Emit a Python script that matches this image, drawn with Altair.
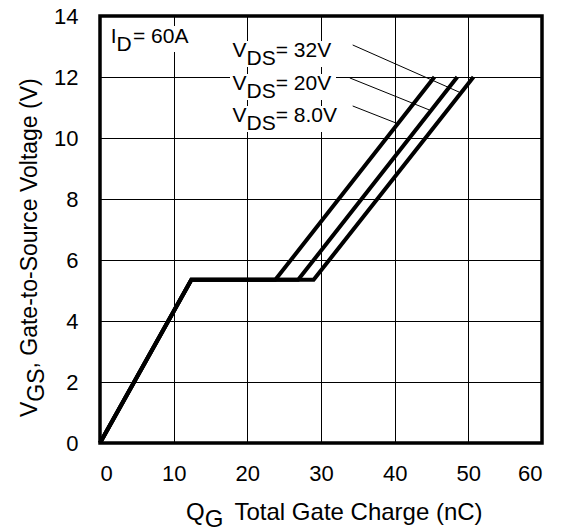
import altair as alt
import pandas as pd

# ---- data ----
qg_8v = [0, 12.4, 23.8, 45.4]
vgs_8v = [0, 5.35, 5.35, 12.0]
qg_20v = [0, 12.4, 26.9, 48.5]
vgs_20v = [0, 5.35, 5.35, 12.0]
qg_32v = [0, 12.4, 29.0, 50.7]
vgs_32v = [0, 5.35, 5.35, 12.0]
x_ticks = [0, 10, 20, 30, 40, 50, 60]
y_ticks = [0, 2, 4, 6, 8, 10, 12, 14]

rows = []
for name, xs, ys in [("8V", qg_8v, vgs_8v), ("20V", qg_20v, vgs_20v), ("32V", qg_32v, vgs_32v)]:
    for i, (xv, yv) in enumerate(zip(xs, ys)):
        rows.append({"series": name, "order": i, "qg": xv, "vgs": yv})
df = pd.DataFrame(rows)

# leader lines (data units)
lead_x = [34.3, 33.9, 34.3]
lead_y = [13.05, 11.97, 11.05]
lead_x2 = [48.8, 44.7, 40.2]
lead_y2 = [11.5, 10.92, 10.49]
leaders = pd.DataFrame({"x": lead_x, "y": lead_y, "x2": lead_x2, "y2": lead_y2})

FONT = "Liberation Sans"
W, H = 442, 427

x_enc = alt.X("qg:Q", scale=alt.Scale(domain=[0, 60], nice=False),
              axis=alt.Axis(values=x_ticks, title=None, grid=True, labelPadding=20))
y_enc = alt.Y("vgs:Q", scale=alt.Scale(domain=[0, 14], nice=False),
              axis=alt.Axis(values=y_ticks, title=None, grid=True, labelPadding=22))

curves = alt.Chart(df).mark_line(color="black", strokeWidth=4, strokeJoin="miter").encode(
    x=x_enc, y=y_enc, detail="series:N", order="order:Q")

lead = alt.Chart(leaders).mark_rule(color="black", strokeWidth=1).encode(
    x="x:Q", y="y:Q", x2="x2:Q", y2="y2:Q")

one = pd.DataFrame({"k": [0]})

frame = alt.Chart(one).mark_rect(fill=None, stroke="black", strokeWidth=3.5).encode(
    x=alt.value(0), x2=alt.value(W), y=alt.value(0), y2=alt.value(H))

# white backgrounds behind the in-plot labels (pixels from plot origin)
boxes = [(9, 92, 10, 36), (130, 236, 25, 51), (130, 236, 58, 84), (130, 241, 90, 116)]
box_layers = [
    alt.Chart(one).mark_rect(color="white").encode(
        x=alt.value(a), x2=alt.value(b), y=alt.value(c), y2=alt.value(d))
    for a, b, c, d in boxes
]

# text pieces: (text, x, y, size, angle)
texts = [
    ("I", 10.7, 27, 21, 0), ("D", 16.5, 35, 21, 0), ("= 60A", 33.0, 27, 21, 0),
    ("V", 132.5, 41, 21, 0), ("DS", 146.5, 49, 21, 0), ("= 32V", 175.7, 41, 21, 0),
    ("V", 132.5, 74, 21, 0), ("DS", 146.5, 82, 21, 0), ("= 20V", 175.7, 74, 21, 0),
    ("V", 132.5, 106, 21, 0), ("DS", 146.5, 114, 21, 0), ("= 8.0V", 175.7, 106, 21, 0),
    # x title
    ("Q", 86, 504, 24, 0), ("G", 104.7, 511, 24, 0), ("Total Gate Charge (nC)", 134.5, 504, 24, 0),
    # y title
    ("V", -63.5, 401, 23, 270), ("GS", -56, 385.7, 23, 270), (", Gate-to-Source Voltage (V)", -63.5, 352.5, 23, 270),
]
text_layers = [
    alt.Chart(one).mark_text(text=t, font=FONT, fontSize=s, angle=ang, align="left",
                             baseline="alphabetic", color="black").encode(
        x=alt.value(px), y=alt.value(py))
    for t, px, py, s, ang in texts
]

chart = alt.layer(curves, *box_layers, lead, frame, *text_layers).properties(
    width=W, height=H, autosize="none",
    padding={"left": 92, "top": 8, "right": 14, "bottom": 84},
).configure_view(stroke=None).configure_axis(
    gridColor="black", gridOpacity=1, gridWidth=1, domain=False, ticks=False, tickSize=0,
    labelFont=FONT, labelFontSize=22, labelColor="black",
)

chart.save("out.html", embed_options={"renderer": "svg", "actions": False})
